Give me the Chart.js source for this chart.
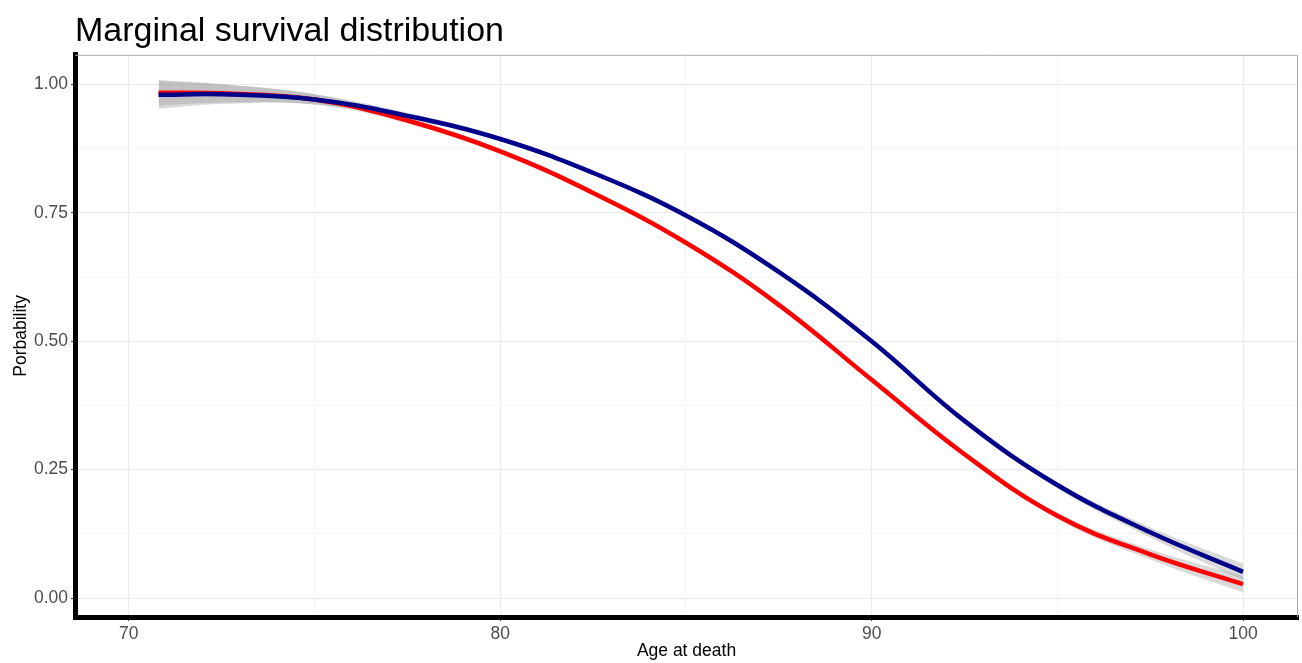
<!DOCTYPE html>
<html>
<head>
<meta charset="utf-8">
<script src="https://cdn.jsdelivr.net/npm/chart.js@4"></script>
<style>
  html, body { margin: 0; padding: 0; background: #fff; }
  #wrap { width: 1302px; height: 663px; }
</style>
</head>
<body>
<div id="wrap"><canvas id="survChart" width="1302" height="663"></canvas></div>
<script>
// Edad (eje x) y valores
const ages = [70.8, 72.5, 75, 77.5, 80, 82.5, 85, 87.5, 90, 92.5, 95, 97.5, 100];

const blueVals = [0.980, 0.981, 0.971, 0.939, 0.894, 0.828, 0.745, 0.635, 0.500, 0.345, 0.220, 0.128, 0.051];
const blueHigh = [1.007, 1.000, 0.981, 0.945, 0.898, 0.832, 0.749, 0.639, 0.504, 0.349, 0.226, 0.138, 0.067];
const blueLow  = [0.953, 0.962, 0.961, 0.933, 0.890, 0.824, 0.741, 0.631, 0.496, 0.341, 0.214, 0.118, 0.035];

const redVals  = [0.984, 0.983, 0.971, 0.930, 0.870, 0.789, 0.692, 0.571, 0.425, 0.280, 0.160, 0.085, 0.027];
const redHigh  = [1.009, 1.001, 0.981, 0.936, 0.875, 0.793, 0.696, 0.575, 0.429, 0.284, 0.166, 0.095, 0.043];
const redLow   = [0.959, 0.965, 0.961, 0.924, 0.865, 0.785, 0.688, 0.567, 0.421, 0.276, 0.154, 0.075, 0.011];

// Marcas de los ejes (las intermedias sin etiqueta)
const xTicks = [70, 75, 80, 85, 90, 95, 100];
const xMajor = [70, 80, 90, 100];
const yTicks = [0, 0.125, 0.25, 0.375, 0.5, 0.625, 0.75, 0.875, 1];
const yMajor = [0, 0.25, 0.5, 0.75, 1];

const FONT = "'Liberation Sans', Arial, Helvetica, sans-serif";
const isMajor = (list, v) => list.some(m => Math.abs(m - v) < 1e-6);
const pts = vals => ages.map((a, i) => ({ x: a, y: vals[i] }));

const bandFill = 'rgba(150, 150, 150, 0.36)';

// Marco gris arriba y a la derecha
const framePlugin = {
    id: 'frame',
    afterDraw(chart) {
        const { ctx, chartArea: a } = chart;
        ctx.save();
        ctx.strokeStyle = '#a6a6a6';
        ctx.lineWidth = 1;
        ctx.beginPath();
        ctx.moveTo(a.left, a.top + 0.5);
        ctx.lineTo(a.right - 0.5, a.top + 0.5);
        ctx.lineTo(a.right - 0.5, a.bottom);
        ctx.stroke();
        ctx.restore();
    }
};

const baseLine = { pointRadius: 0, tension: 0.4, borderWidth: 0 };

const ctx = document.getElementById('survChart').getContext('2d');
new Chart(ctx, {
    type: 'line',
    data: {
        datasets: [
            { ...baseLine, label: 'redLow', data: pts(redLow), fill: false, order: 5 },
            { ...baseLine, label: 'redHigh', data: pts(redHigh), fill: '-1', backgroundColor: bandFill, order: 4 },
            { ...baseLine, label: 'blueLow', data: pts(blueLow), fill: false, order: 3 },
            { ...baseLine, label: 'blueHigh', data: pts(blueHigh), fill: '-1', backgroundColor: bandFill, order: 2 },
            { ...baseLine, label: 'red', data: pts(redVals), borderColor: '#ff0000', borderWidth: 4.5, fill: false, order: 1 },
            { ...baseLine, label: 'blue', data: pts(blueVals), borderColor: '#00008b', borderWidth: 4.5, fill: false, order: 0 }
        ]
    },
    options: {
        responsive: false,
        animation: false,
        layout: { padding: { left: 0, right: 4, top: 0, bottom: 0 } },
        plugins: {
            legend: { display: false },
            tooltip: { enabled: false },
            title: {
                display: true,
                text: 'Marginal survival distribution',
                align: 'start',
                fullSize: false,
                color: '#000',
                font: { family: FONT, size: 34, weight: 'normal' },
                padding: { top: 11, bottom: 3 }
            }
        },
        scales: {
            x: {
                type: 'linear',
                min: 68.55,
                max: 101.48,
                afterBuildTicks: s => { s.ticks = xTicks.map(v => ({ value: v })); },
                afterFit: s => { s.height = 46; },
                border: { color: '#000', width: 5 },
                grid: {
                    color: c => isMajor(xMajor, c.tick.value) ? '#ebebeb' : '#f5f5f5',
                    tickColor: c => isMajor(xMajor, c.tick.value) ? '#333' : 'rgba(0,0,0,0)',
                    tickLength: 4,
                    lineWidth: 1
                },
                ticks: {
                    padding: 3,
                    color: '#4d4d4d',
                    font: { family: FONT, size: 17.5 },
                    maxRotation: 0,
                    callback: v => isMajor(xMajor, v) ? String(v) : ''
                },
                title: {
                    display: true,
                    text: 'Age at death',
                    color: '#000',
                    font: { family: FONT, size: 17.5 },
                    padding: { top: 0, bottom: 1 }
                }
            },
            y: {
                type: 'linear',
                min: -0.037,
                max: 1.058,
                afterBuildTicks: s => { s.ticks = yTicks.map(v => ({ value: v })); },
                afterFit: s => { s.width = 75; },
                border: { color: '#000', width: 5 },
                grid: {
                    color: c => isMajor(yMajor, c.tick.value) ? '#ebebeb' : '#f5f5f5',
                    tickColor: c => isMajor(yMajor, c.tick.value) ? '#333' : 'rgba(0,0,0,0)',
                    tickLength: 4,
                    lineWidth: 1
                },
                ticks: {
                    padding: 3,
                    color: '#4d4d4d',
                    font: { family: FONT, size: 17.5 },
                    callback: v => isMajor(yMajor, v) ? v.toFixed(2) : ''
                },
                title: {
                    display: true,
                    text: 'Porbability',
                    color: '#000',
                    font: { family: FONT, size: 17.5 },
                    padding: { top: 11, bottom: 0 }
                }
            }
        }
    },
    plugins: [framePlugin]
});
</script>
</body>
</html>
